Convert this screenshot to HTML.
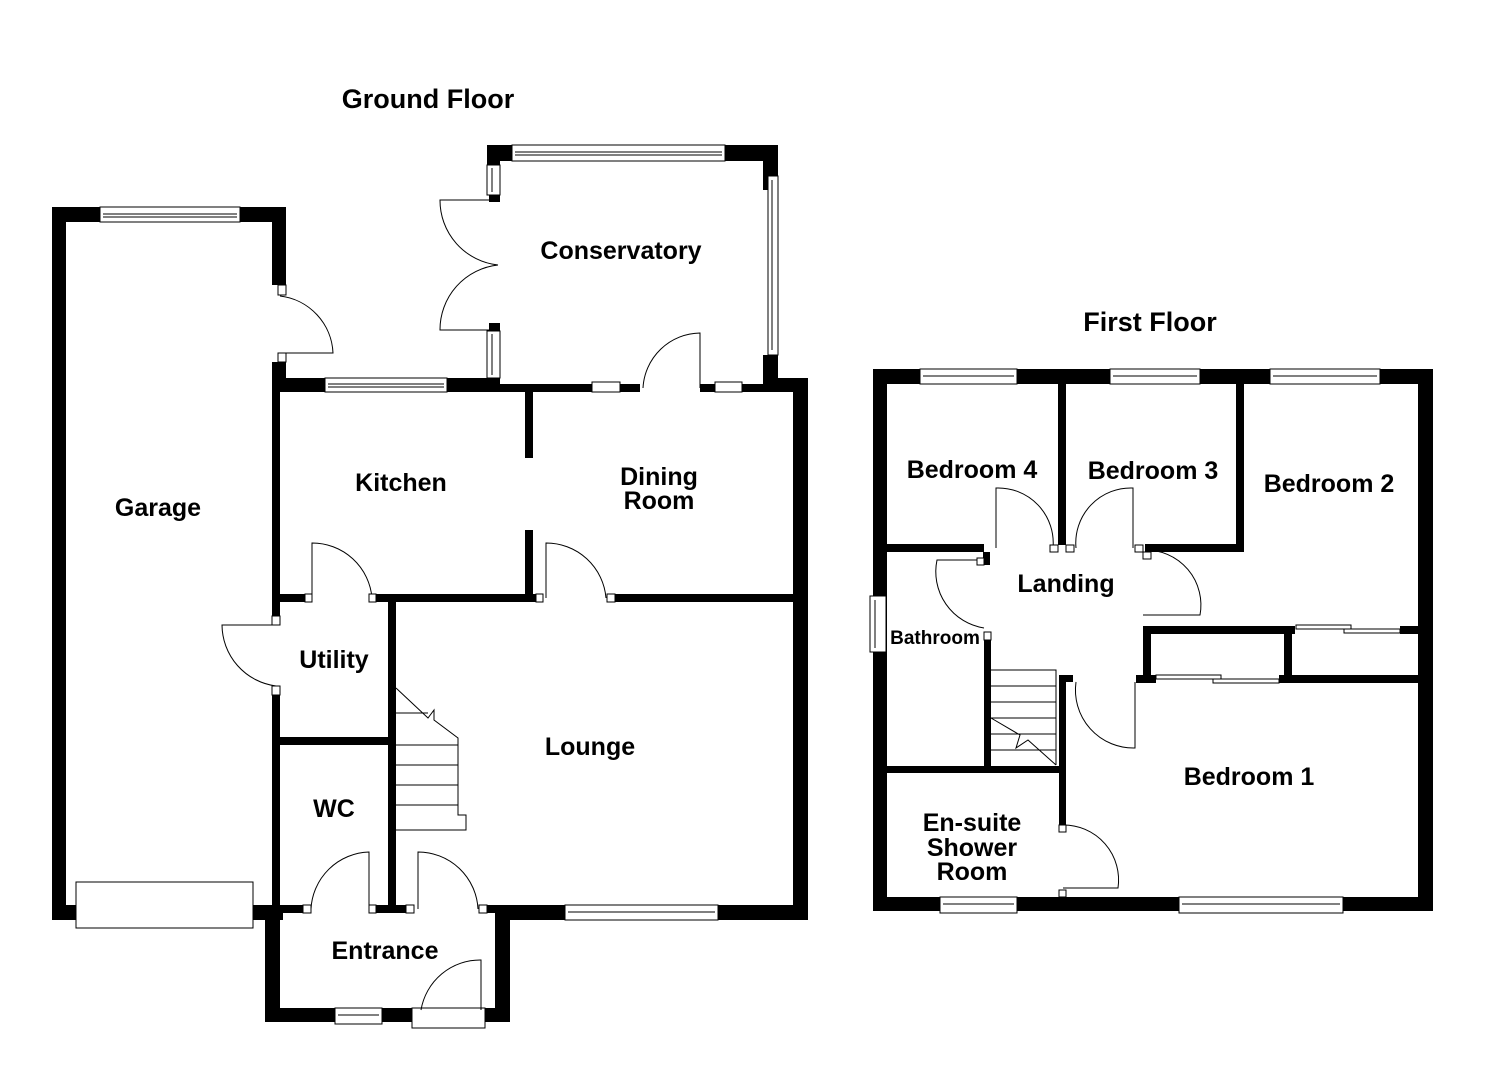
<!DOCTYPE html>
<html><head><meta charset="utf-8"><style>
html,body{margin:0;padding:0;background:#fff;}
svg{display:block}
text{font-family:"Liberation Sans",Arial,sans-serif;font-weight:bold;fill:#000;}
</style></head><body>
<svg width="1485" height="1080" viewBox="0 0 1485 1080" xmlns="http://www.w3.org/2000/svg">
<g fill="#000">
<rect x="52" y="207" width="14" height="713"/>
<rect x="52" y="207" width="48" height="15"/>
<rect x="240" y="207" width="46" height="15"/>
<rect x="272" y="207" width="14" height="78"/>
<rect x="52" y="905" width="24" height="15"/>
<rect x="253" y="905" width="30" height="15"/>
<rect x="272" y="362" width="14" height="30"/>
<rect x="272" y="390" width="8" height="232"/>
<rect x="272" y="690" width="8" height="225"/>
<rect x="272" y="378" width="53" height="14"/>
<rect x="447" y="378" width="53" height="14"/>
<rect x="500" y="384" width="92" height="8"/>
<rect x="620" y="384" width="20" height="8"/>
<rect x="700" y="384" width="15" height="8"/>
<rect x="742" y="384" width="66" height="8"/>
<rect x="487" y="145" width="25" height="16"/>
<rect x="487" y="145" width="13" height="20"/>
<rect x="725" y="145" width="53" height="16"/>
<rect x="763" y="145" width="15" height="45"/>
<rect x="763" y="355" width="15" height="37"/>
<rect x="763" y="378" width="45" height="14"/>
<rect x="489" y="195" width="11" height="7"/>
<rect x="489" y="323" width="11" height="8"/>
<rect x="793" y="378" width="15" height="542"/>
<rect x="525" y="392" width="8" height="66"/>
<rect x="525" y="530" width="8" height="70"/>
<rect x="280" y="594" width="25" height="8"/>
<rect x="376" y="594" width="160" height="8"/>
<rect x="615" y="594" width="185" height="8"/>
<rect x="388" y="594" width="8" height="318"/>
<rect x="280" y="737" width="110" height="8"/>
<rect x="280" y="905" width="23" height="8"/>
<rect x="376" y="905" width="30" height="8"/>
<rect x="480" y="905" width="20" height="8"/>
<rect x="265" y="905" width="15" height="117"/>
<rect x="265" y="1008" width="70" height="14"/>
<rect x="382" y="1008" width="30" height="14"/>
<rect x="485" y="1008" width="25" height="14"/>
<rect x="495" y="905" width="15" height="117"/>
<rect x="495" y="905" width="70" height="15"/>
<rect x="718" y="905" width="90" height="15"/>

<rect x="873" y="369" width="14" height="542"/>
<rect x="1418" y="369" width="15" height="542"/>
<rect x="873" y="369" width="47" height="15"/>
<rect x="1017" y="369" width="93" height="15"/>
<rect x="1200" y="369" width="70" height="15"/>
<rect x="1380" y="369" width="53" height="15"/>
<rect x="873" y="897" width="67" height="14"/>
<rect x="1017" y="897" width="162" height="14"/>
<rect x="1343" y="897" width="90" height="14"/>
<rect x="1058" y="383" width="8" height="162"/>
<rect x="1236" y="383" width="8" height="169"/>
<rect x="887" y="544" width="97" height="8"/>
<rect x="1145" y="544" width="99" height="8"/>
<rect x="983" y="552" width="7" height="13"/>
<rect x="984" y="640" width="7" height="130"/>
<rect x="887" y="766" width="179" height="7"/>
<rect x="1059" y="675" width="7" height="150"/>
<rect x="1059" y="675" width="14" height="7"/>
<rect x="1143" y="626" width="152" height="8"/>
<rect x="1143" y="626" width="8" height="56"/>
<rect x="1136" y="675" width="20" height="8"/>
<rect x="1284" y="626" width="8" height="56"/>
<rect x="1279" y="675" width="145" height="8"/>
<rect x="1400" y="626" width="20" height="8"/>
</g>

<g fill="#fff" stroke="#000" stroke-width="1">
<rect x="100" y="207" width="140" height="15"/><line x1="103" y1="214" x2="237" y2="214"/><line x1="103" y1="217" x2="237" y2="217"/>
<rect x="325" y="378" width="122" height="14"/><line x1="328" y1="384" x2="444" y2="384"/><line x1="328" y1="387" x2="444" y2="387"/>
<rect x="512" y="145" width="213" height="16"/><line x1="515" y1="152" x2="722" y2="152"/><line x1="515" y1="155" x2="722" y2="155"/>
<rect x="768" y="176" width="10" height="179"/><line x1="772" y1="180" x2="772" y2="350"/>
<rect x="487" y="165" width="13" height="30"/><line x1="492" y1="168" x2="492" y2="192"/>
<rect x="487" y="331" width="13" height="47"/><line x1="492" y1="334" x2="492" y2="375"/>
<rect x="592" y="382" width="28" height="10"/><rect x="715" y="382" width="27" height="10"/>
<rect x="565" y="905" width="153" height="15"/><line x1="568" y1="912" x2="715" y2="912"/>
<rect x="335" y="1008" width="47" height="16"/><line x1="338" y1="1015" x2="379" y2="1015"/>
<rect x="412" y="1008" width="73" height="20"/>
<rect x="76" y="882" width="177" height="46"/>
<rect x="920" y="369" width="97" height="15"/><line x1="923" y1="376" x2="1014" y2="376"/>
<rect x="1110" y="369" width="90" height="15"/><line x1="1113" y1="376" x2="1197" y2="376"/>
<rect x="1270" y="369" width="110" height="15"/><line x1="1273" y1="376" x2="1377" y2="376"/>
<rect x="940" y="897" width="77" height="16"/><line x1="943" y1="904" x2="1014" y2="904"/>
<rect x="1179" y="897" width="164" height="16"/><line x1="1182" y1="904" x2="1340" y2="904"/>
<rect x="870" y="596" width="16" height="56"/><line x1="875" y1="600" x2="875" y2="648"/>
<rect x="1296" y="625" width="55" height="4"/><rect x="1344" y="629" width="56" height="4"/>
<rect x="1156" y="675" width="65" height="4"/><rect x="1213" y="679" width="66" height="4"/>
</g>

<g fill="none" stroke="#000" stroke-width="1">
<path d="M280 296 A60 60 0 0 1 333 353 L280 353"/>
<path d="M498 200 L440 200 A65 65 0 0 0 498 265 M498 330 L440 330 A65 65 0 0 1 498 265"/>
<path d="M700 388 L700 333 A58 58 0 0 0 643 388"/>
<path d="M312 598 L312 543 A60 60 0 0 1 372 598"/>
<path d="M546 598 L546 543 A60 60 0 0 1 606 598"/>
<path d="M276 625 L222 625 A62 62 0 0 0 276 686"/>
<path d="M369 909 L369 852 A60 60 0 0 0 311 909"/>
<path d="M418 909 L418 852 A60 60 0 0 1 478 909"/>
<path d="M481 1010 L481 960 A60 60 0 0 0 421 1010"/>
<path d="M396 688 L428 718 L434 710 L434 720 L458 738 L458 815 L466 815 L466 830 L396 830"/>
<path d="M396 713 L428 713 M396 745 L458 745 M396 765 L458 765 M396 785 L458 785 M396 805 L458 805"/>
<path d="M977 560 L937 560 A57 57 0 0 0 984 628"/>
<path d="M1053 548 A55 55 0 0 0 996 488 L996 548"/>
<path d="M1076 548 A55 55 0 0 1 1133 488 L1133 548"/>
<path d="M1145 550 A55 55 0 0 1 1200 615 L1143 615"/>
<path d="M1076 682 A58 58 0 0 0 1135 748 L1135 682"/>
<path d="M1063 825 A55 55 0 0 1 1118 888 L1063 888"/>
<path d="M991 670 L1056 670 L1056 765 M991 686 L1056 686 M991 702 L1056 702 M991 718 L1056 718 M991 734 L1056 734 M991 750 L1056 750"/>
<path d="M991 718 L1020 735 L1016 748 L1028 740 L1056 765"/>
</g>
<g fill="#fff" stroke="#000" stroke-width="1">
<rect x="278" y="285" width="8" height="10"/><rect x="278" y="353" width="8" height="9"/>
<rect x="305" y="594" width="7" height="8"/><rect x="369" y="594" width="7" height="8"/>
<rect x="536" y="594" width="7" height="8"/><rect x="607" y="594" width="8" height="8"/>
<rect x="272" y="616" width="8" height="9"/><rect x="272" y="686" width="8" height="9"/>
<rect x="303" y="905" width="8" height="8"/><rect x="369" y="905" width="7" height="8"/>
<rect x="406" y="905" width="8" height="8"/><rect x="479" y="905" width="8" height="8"/>
<rect x="977" y="558" width="7" height="7"/><rect x="984" y="632" width="7" height="8"/>
<rect x="1050" y="545" width="8" height="7"/><rect x="1066" y="545" width="8" height="7"/>
<rect x="1135" y="545" width="8" height="7"/><rect x="1143" y="552" width="8" height="7"/>
<rect x="1059" y="825" width="7" height="7"/><rect x="1059" y="890" width="7" height="7"/>
</g>

<text x="428" y="108" font-size="27" text-anchor="middle">Ground Floor</text>
<text x="1150" y="331" font-size="27" text-anchor="middle">First Floor</text>
<text x="621" y="259" font-size="25" text-anchor="middle">Conservatory</text>
<text x="158" y="516" font-size="25" text-anchor="middle">Garage</text>
<text x="401" y="491" font-size="25" text-anchor="middle">Kitchen</text>
<text x="659" y="485" font-size="25" text-anchor="middle">Dining</text>
<text x="659" y="509" font-size="25" text-anchor="middle">Room</text>
<text x="334" y="668" font-size="25" text-anchor="middle">Utility</text>
<text x="590" y="755" font-size="25" text-anchor="middle">Lounge</text>
<text x="334" y="817" font-size="25" text-anchor="middle">WC</text>
<text x="385" y="959" font-size="25" text-anchor="middle">Entrance</text>
<text x="972" y="478" font-size="25" text-anchor="middle">Bedroom 4</text>
<text x="1153" y="479" font-size="25" text-anchor="middle">Bedroom 3</text>
<text x="1329" y="492" font-size="25" text-anchor="middle">Bedroom 2</text>
<text x="1066" y="592" font-size="25" text-anchor="middle">Landing</text>
<text x="935" y="644" font-size="19" text-anchor="middle">Bathroom</text>
<text x="1249" y="785" font-size="25" text-anchor="middle">Bedroom 1</text>
<text x="972" y="831" font-size="25" text-anchor="middle">En-suite</text>
<text x="972" y="856" font-size="25" text-anchor="middle">Shower</text>
<text x="972" y="880" font-size="25" text-anchor="middle">Room</text>
</svg>
</body></html>
